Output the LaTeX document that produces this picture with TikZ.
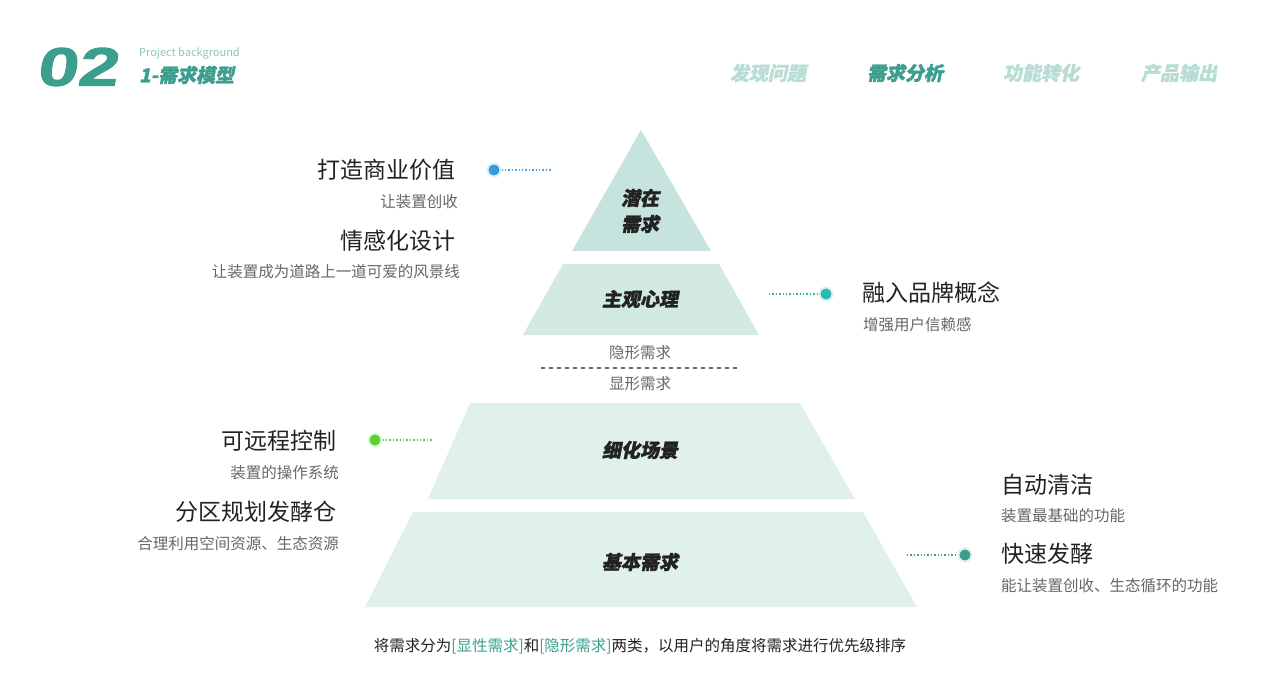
\documentclass[tikz,border=0pt]{standalone}
\usepackage{fontspec}
\setmainfont{Noto Sans CJK SC}
\newfontfamily\cjkb{Noto Sans CJK SC}[UprightFont=* Black, BoldFont=* Black, FakeSlant=0.2, FakeBold=1.5]
\newfontfamily\latb{Liberation Sans}[FakeSlant=0.15, FakeStretch=1.35, FakeBold=2]
\definecolor{teal}{HTML}{3C9E8E}
\definecolor{light}{HTML}{B8DDD4}
\definecolor{t1}{HTML}{C6E4DD}
\definecolor{t2}{HTML}{D3EAE4}
\definecolor{t3}{HTML}{E0F0EC}
\definecolor{gtxt}{HTML}{666666}
\definecolor{btxt}{HTML}{222222}
\tikzset{
 lab/.style={font=\cjkb\fontsize{19}{19}\selectfont, text=btxt, align=center},
 big/.style={font=\fontsize{23}{23}\selectfont, text=btxt, inner sep=0},
 sub/.style={font=\fontsize{15.5}{16}\selectfont, text=gtxt, inner sep=0},
 nav/.style={font=\cjkb\fontsize{19}{19}\selectfont, text=light, inner sep=0},
 dot/.style={circle, minimum size=13pt, inner sep=0, line width=2pt},
 lead/.style={dotted, line width=1.4pt}
}
\begin{document}
\begin{tikzpicture}[x=1pt,y=-1pt]
\useasboundingbox (0,0) rectangle (1280,698);
% header
\node[anchor=west, font=\latb\bfseries\fontsize{54}{54}\selectfont, text=teal, inner sep=0] (num) at (36,67) {02};
\node[anchor=west, font=\fontsize{11}{11}\selectfont, text=teal!60, inner sep=0] (pb) at (139,53) {Project background};
\node[anchor=west, font=\cjkb\fontsize{19}{19}\selectfont, text=teal, inner sep=0] (tt) at (139,75) {1-需求模型};
\node[nav] (n1) at (768,73) {发现问题};
\node[nav, text=teal] (n2) at (905,73) {需求分析};
\node[nav] (n3) at (1041,73) {功能转化};
\node[nav] (n4) at (1179,73) {产品输出};
% pyramid
\fill[t1] (641,130) -- (711,251) -- (572,251) -- cycle;
\fill[t2] (563,264) -- (719,264) -- (759,335) -- (523,335) -- cycle;
\fill[t3] (470,403) -- (800,403) -- (855,499) -- (428,499) -- cycle;
\fill[t3] (413,512) -- (863,512) -- (917,607) -- (365,607) -- cycle;
\node[lab] (p1) at (640,211) {潜在\\[7pt]需求};
\node[lab] (p2) at (640,299) {主观心理};
\node[lab] (p3) at (640,450) {细化场景};
\node[lab] (p4) at (640,562) {基本需求};
\node[sub] (hid) at (640,353) {隐形需求};
\node[sub] (vis) at (640,384) {显形需求};
\coordinate (dl) at (541,368); \coordinate (dr) at (740,368);
\draw[gray!80!black, line width=1.2pt, dash pattern=on 4pt off 4pt] (dl) -- (dr);
% dots
\node[dot, fill=cyan!70!blue!80, draw=cyan!15] (d1) at (494,170) {};
\coordinate (e1) at (552,170);
\draw[lead, cyan!70!blue!70] (d1) -- (e1);
\node[dot, fill=teal!70!cyan, draw=teal!15] (d2) at (826,294) {};
\coordinate (e2) at (769,294);
\draw[lead, teal!70!cyan] (e2) -- (d2);
\node[dot, fill=green!50!olive!80, draw=green!15] (d3) at (375,440) {};
\coordinate (e3) at (433,440);
\draw[lead, green!50!olive!80] (d3) -- (e3);
\node[dot, fill=teal, draw=teal!15] (d4) at (965,555) {};
\coordinate (e4) at (907,555);
\draw[lead, teal] (e4) -- (d4);
% texts left
\node[big, anchor=east] (a1) at (456,170) {打造商业价值};
\node[sub, anchor=east] (a2) at (458,202) {让装置创收};
\node[big, anchor=east] (a3) at (456,241) {情感化设计};
\node[sub, anchor=east] (a4) at (460,272) {让装置成为道路上一道可爱的风景线};
\node[big, anchor=east] (b1) at (337,441) {可远程控制};
\node[sub, anchor=east] (b2) at (339,473) {装置的操作系统};
\node[big, anchor=east] (b3) at (337,512) {分区规划发酵仓};
\node[sub, anchor=east] (b4) at (339,544) {合理利用空间资源、生态资源};
% texts right
\node[big, anchor=west] (c1) at (862,293) {融入品牌概念};
\node[sub, anchor=west] (c2) at (863,325) {增强用户信赖感};
\node[big, anchor=west] (r1) at (1001,485) {自动清洁};
\node[sub, anchor=west] (r2) at (1001,516) {装置最基础的功能};
\node[big, anchor=west] (r3) at (1001,554) {快速发酵};
\node[sub, anchor=west] (r4) at (1001,586) {能让装置创收、生态循环的功能};
% caption
\node[sub, text=btxt] (cap) at (640,646) {将需求分为\textcolor{teal}{[显性需求]}和\textcolor{teal}{[隐形需求]}两类，以用户的角度将需求进行优先级排序};
\end{tikzpicture}
\end{document}
